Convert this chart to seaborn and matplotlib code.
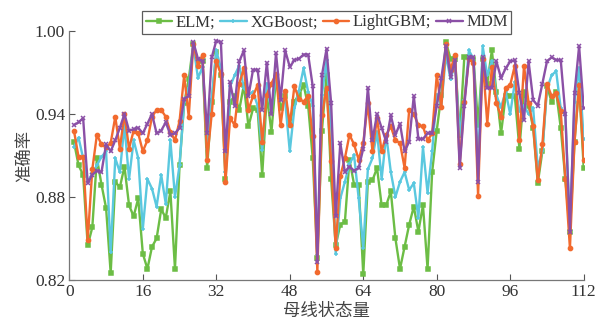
import numpy as np
import pandas as pd
import matplotlib
matplotlib.use('Agg')
import matplotlib.pyplot as plt
import seaborn as sns

# bus state index 1..112
x_idx = list(range(1, 113))

elm = [0.920, 0.903, 0.896, 0.845, 0.858, 0.908, 0.889, 0.872, 0.825, 0.891,
       0.887, 0.902, 0.874, 0.866, 0.879, 0.839, 0.828, 0.844, 0.850, 0.871,
       0.865, 0.884, 0.828, 0.903, 0.948, 0.965, 0.991, 0.978, 0.978, 0.901,
       0.949, 0.985, 0.968, 0.893, 0.949, 0.953, 0.943, 0.961, 0.931, 0.944,
       0.943, 0.896, 0.954, 0.927, 0.966, 0.944, 0.953, 0.932, 0.949, 0.954,
       0.961, 0.946, 0.908, 0.836, 0.928, 0.968, 0.893, 0.845, 0.860, 0.862,
       0.907, 0.889, 0.889, 0.824, 0.891, 0.892, 0.901, 0.874, 0.874, 0.884,
       0.850, 0.828, 0.844, 0.860, 0.873, 0.855, 0.874, 0.828, 0.898, 0.928,
       0.954, 0.992, 0.980, 0.980, 0.925, 0.981, 0.981, 0.980, 0.932, 0.980,
       0.962, 0.986, 0.956, 0.926, 0.953, 0.953, 0.953, 0.915, 0.956, 0.946,
       0.930, 0.890, 0.913, 0.960, 0.949, 0.956, 0.930, 0.893, 0.855, 0.920,
       0.961, 0.901]

xgb = [0.916, 0.923, 0.908, 0.891, 0.897, 0.903, 0.909, 0.913, 0.840, 0.908,
       0.898, 0.932, 0.893, 0.921, 0.908, 0.857, 0.893, 0.886, 0.873, 0.896,
       0.875, 0.921, 0.880, 0.903, 0.949, 0.959, 0.990, 0.966, 0.974, 0.915,
       0.951, 0.986, 0.973, 0.898, 0.960, 0.968, 0.975, 0.959, 0.954, 0.956,
       0.946, 0.914, 0.962, 0.942, 0.968, 0.951, 0.949, 0.913, 0.944, 0.957,
       0.973, 0.956, 0.946, 0.838, 0.954, 0.979, 0.932, 0.839, 0.879, 0.891,
       0.904, 0.910, 0.879, 0.843, 0.900, 0.908, 0.927, 0.893, 0.925, 0.898,
       0.880, 0.891, 0.898, 0.885, 0.890, 0.865, 0.916, 0.883, 0.913, 0.954,
       0.946, 0.983, 0.965, 0.977, 0.925, 0.950, 0.986, 0.980, 0.903, 0.989,
       0.968, 0.978, 0.953, 0.945, 0.956, 0.940, 0.963, 0.942, 0.946, 0.940,
       0.944, 0.901, 0.913, 0.958, 0.968, 0.971, 0.944, 0.940, 0.858, 0.949,
       0.973, 0.922]

lgbm = [0.928, 0.909, 0.909, 0.849, 0.900, 0.925, 0.918, 0.916, 0.919, 0.938,
        0.915, 0.940, 0.915, 0.928, 0.926, 0.913, 0.921, 0.938, 0.943, 0.943,
        0.938, 0.927, 0.921, 0.935, 0.968, 0.938, 0.991, 0.975, 0.983, 0.907,
        0.940, 0.978, 0.969, 0.891, 0.937, 0.932, 0.962, 0.973, 0.943, 0.953,
        0.961, 0.920, 0.954, 0.962, 0.969, 0.932, 0.957, 0.932, 0.960, 0.951,
        0.949, 0.953, 0.924, 0.826, 0.939, 0.959, 0.906, 0.843, 0.895, 0.908,
        0.925, 0.918, 0.907, 0.919, 0.948, 0.913, 0.937, 0.913, 0.925, 0.931,
        0.921, 0.919, 0.901, 0.943, 0.940, 0.932, 0.931, 0.921, 0.926, 0.968,
        0.945, 0.991, 0.972, 0.983, 0.904, 0.949, 0.980, 0.977, 0.881, 0.980,
        0.933, 0.974, 0.948, 0.938, 0.959, 0.961, 0.975, 0.921, 0.975, 0.948,
        0.931, 0.892, 0.918, 0.962, 0.953, 0.955, 0.942, 0.893, 0.843, 0.920,
        0.961, 0.907]

mdm = [0.932, 0.934, 0.937, 0.890, 0.896, 0.899, 0.898, 0.918, 0.913, 0.921,
       0.930, 0.940, 0.928, 0.929, 0.930, 0.926, 0.933, 0.940, 0.926, 0.928,
       0.934, 0.925, 0.926, 0.930, 0.951, 0.953, 0.992, 0.980, 0.978, 0.926,
       0.981, 0.993, 0.992, 0.913, 0.963, 0.946, 0.978, 0.986, 0.953, 0.972,
       0.972, 0.943, 0.977, 0.940, 0.984, 0.950, 0.986, 0.974, 0.979, 0.980,
       0.983, 0.983, 0.960, 0.833, 0.968, 0.987, 0.948, 0.866, 0.919, 0.898,
       0.902, 0.899, 0.901, 0.915, 0.959, 0.921, 0.940, 0.930, 0.920, 0.939,
       0.925, 0.933, 0.913, 0.920, 0.953, 0.922, 0.922, 0.926, 0.926, 0.946,
       0.966, 0.989, 0.967, 0.979, 0.901, 0.946, 0.981, 0.981, 0.891, 0.981,
       0.959, 0.959, 0.978, 0.966, 0.973, 0.978, 0.979, 0.955, 0.936, 0.978,
       0.950, 0.946, 0.962, 0.978, 0.981, 0.979, 0.979, 0.940, 0.855, 0.955,
       0.989, 0.944]

labels  = ['ELM;', 'XGBoost;', 'LightGBM;', 'MDM']
colors  = ['#6cbd45', '#5ac8df', '#f26a2e', '#8b50a6']
markers = ['s', '+', 'o', 'x']

sns.set_style('ticks')
plt.rcParams['font.family'] = ['Liberation Serif', 'Noto Sans CJK SC']
plt.rcParams['axes.unicode_minus'] = False

fig, ax = plt.subplots(figsize=(6.03, 3.27), dpi=100)
fig.subplots_adjust(left=0.115, right=0.968, top=0.905, bottom=0.144)

for vals, lab, col, mk in zip([elm, xgb, lgbm, mdm], labels, colors, markers):
    df = pd.DataFrame({'x': x_idx, 'y': vals})
    sns.lineplot(data=df, x='x', y='y', ax=ax, color=col, label=lab,
                 marker=mk, markersize=3, markeredgewidth=1.1,
                 markeredgecolor=col, linewidth=1.7)

ax.set_xlim(0, 112)
ax.set_ylim(0.82, 1.00)
ax.set_xticks(range(0, 113, 16))
ax.set_yticks([0.82, 0.88, 0.94, 1.00])
ax.yaxis.set_major_formatter(plt.FormatStrFormatter('%.2f'))
ax.tick_params(direction='in', length=4, width=0.8, colors='#555555',
               labelsize=12.5, labelcolor='#333333', pad=3)
for side in ['top', 'right']:
    ax.spines[side].set_visible(False)
for side in ['left', 'bottom']:
    ax.spines[side].set_color('#777777')
    ax.spines[side].set_linewidth(0.9)

ax.set_xlabel('母线状态量', fontsize=12.5, color='#444444', labelpad=3)
ax.set_ylabel('准确率', fontsize=12.5, color='#444444', labelpad=1)

leg = ax.legend(loc='center', bbox_to_anchor=(0.5, 1.035), ncol=4,
                frameon=True, fancybox=False, fontsize=12,
                handlelength=1.6, handletextpad=0.2, columnspacing=0.3,
                borderpad=0.2, borderaxespad=0)
leg.get_frame().set_edgecolor('#333333')
leg.get_frame().set_linewidth(0.9)
for t in leg.get_texts():
    t.set_color('#333333')

fig.savefig('out.png', dpi=100)
